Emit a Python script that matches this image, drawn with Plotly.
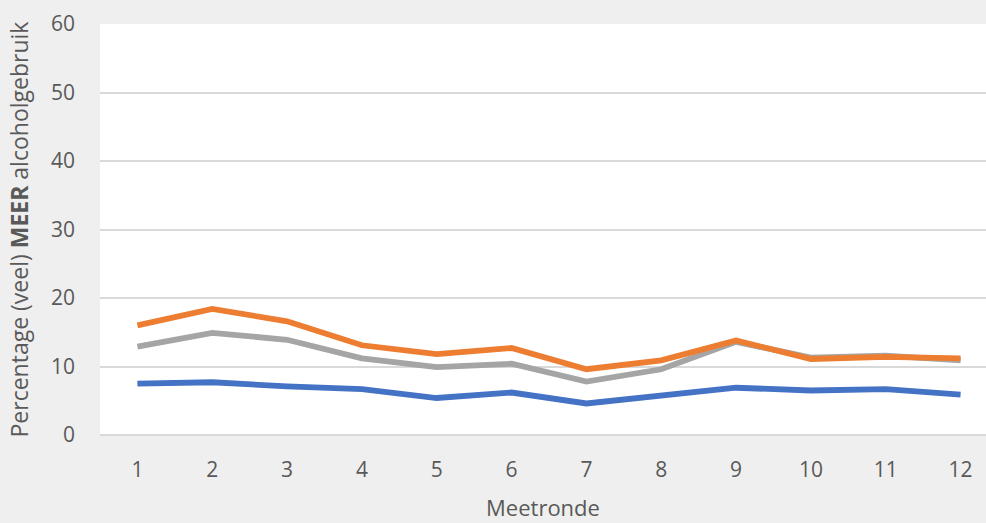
import plotly.graph_objects as go

# Meetrondes (measurement rounds) on the x axis
rondes = list(range(1, 13))
tick_labels = [str(r) for r in rondes]

# Percentage (veel) meer alcoholgebruik per meetronde, three groups
blauw = [7.5, 7.7, 7.1, 6.7, 5.4, 6.2, 4.6, 5.7, 6.9, 6.5, 6.7, 5.9]
oranje = [16.0, 18.4, 16.6, 13.1, 11.8, 12.7, 9.6, 10.9, 13.8, 11.1, 11.4, 11.2]
grijs = [12.9, 14.9, 13.9, 11.2, 9.9, 10.4, 7.8, 9.6, 13.6, 11.3, 11.6, 10.9]

y_ticks = [0, 10, 20, 30, 40, 50, 60]

FONT = "Open Sans"
TXT = "#595959"
GRID = "#D9D9D9"

fig = go.Figure()
for vals, col in [(blauw, "#4472C4"), (grijs, "#A5A5A5"), (oranje, "#ED7D31")]:
    fig.add_trace(go.Scatter(
        x=rondes, y=vals, mode="lines",
        line=dict(color=col, width=5.8, shape="linear"),
        showlegend=False, hoverinfo="skip",
    ))

fig.update_layout(
    width=986, height=523,
    margin=dict(l=100, r=0, t=24, b=88),
    paper_bgcolor="#EFEFEF",
    plot_bgcolor="#FFFFFF",
    font=dict(family=FONT, color=TXT, size=21),
    xaxis=dict(
        range=[0.5, 12.34],
        tickmode="array", tickvals=rondes, ticktext=tick_labels,
        showgrid=False, zeroline=False, showline=False,
        ticks="", ticklabelstandoff=20,
        tickfont=dict(family=FONT, size=21, color=TXT),
        title=dict(text="Meetronde", font=dict(family=FONT, size=22, color=TXT), standoff=18),
    ),
    yaxis=dict(
        range=[0, 60],
        tickmode="array", tickvals=y_ticks,
        showgrid=True, gridcolor=GRID, gridwidth=2,
        zeroline=True, zerolinecolor=GRID, zerolinewidth=2,
        showline=False, ticks="", ticklabelstandoff=24,
        tickfont=dict(family=FONT, size=21, color=TXT),
    ),
    annotations=[dict(
        text="Percentage (veel) <b>MEER</b> alcoholgebruik",
        xref="paper", yref="paper", x=-82 / 886, y=0.5,
        xanchor="center", yanchor="middle", textangle=-90,
        showarrow=False, font=dict(family=FONT, size=23, color=TXT),
    )],
)

fig.write_html("out.html")
